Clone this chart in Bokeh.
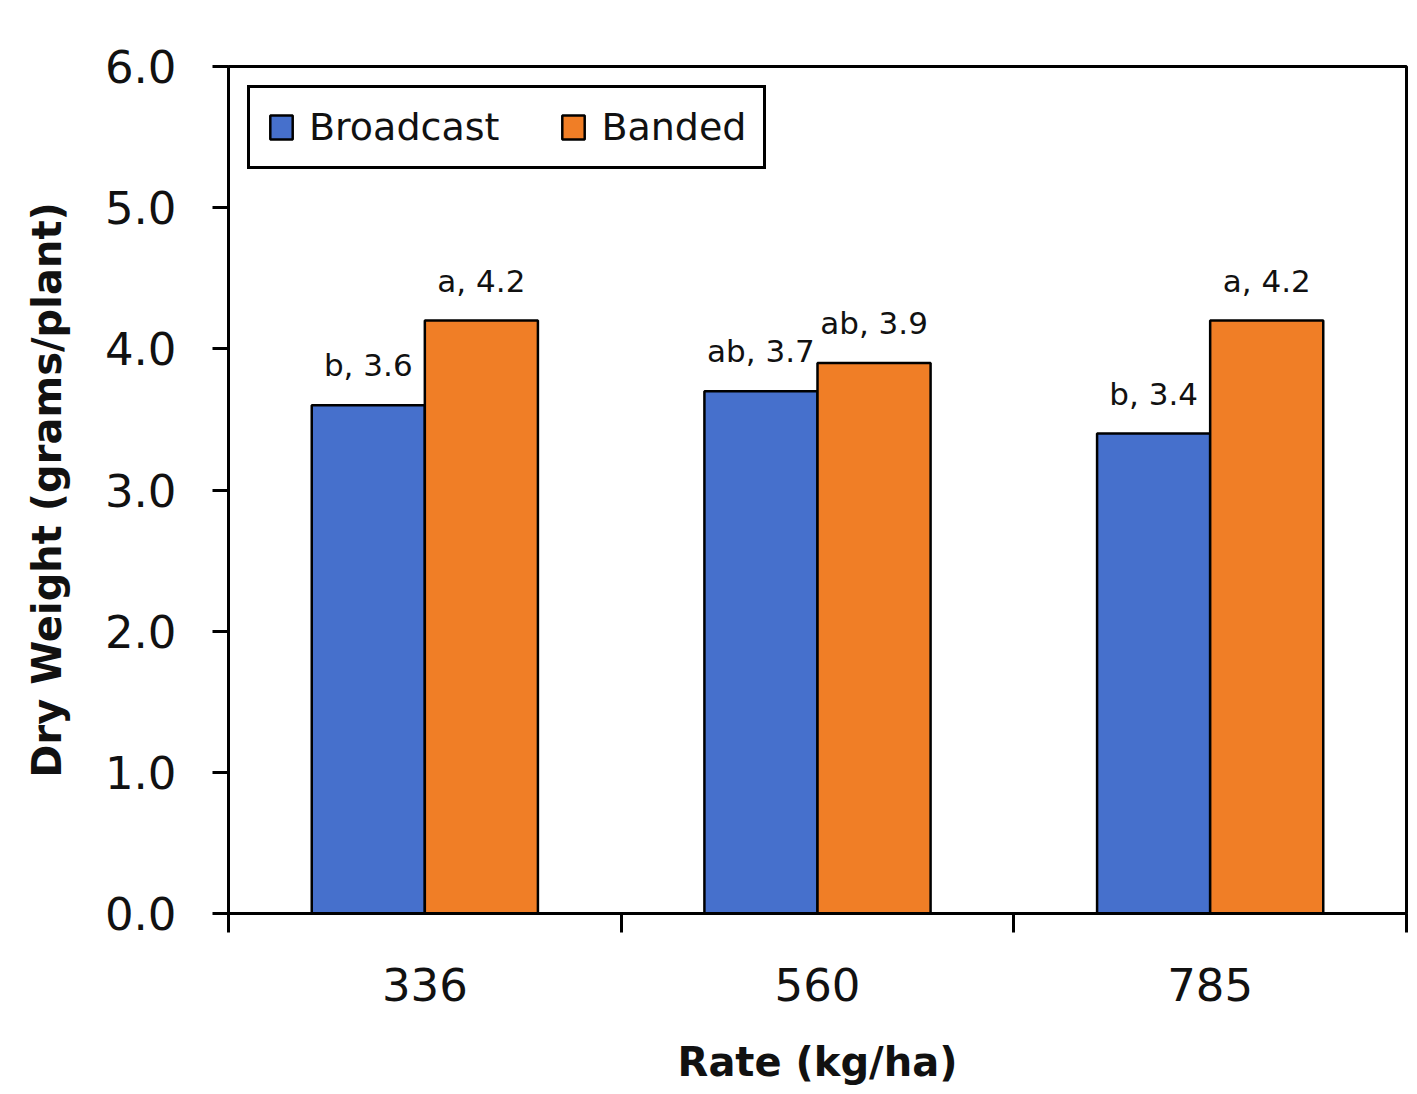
from bokeh.plotting import figure
from bokeh.models import (ColumnDataSource, FactorRange, Range1d, LinearAxis,
                          FixedTicker, NumeralTickFormatter)
from bokeh.core.properties import value
from bokeh.transform import dodge
from bokeh.embed import file_html
from bokeh.resources import INLINE

# Application rates and mean dry weight per plant for each placement method
rates = ["336", "560", "785"]
broadcast = [3.6, 3.7, 3.4]
banded = [4.2, 3.9, 4.2]
broadcast_groups = ["b", "ab", "b"]
banded_groups = ["a", "ab", "a"]
y_ticks = [0, 1, 2, 3, 4, 5, 6]

FONT = "DejaVu Sans"
BLUE = "#4670CC"
ORANGE = "#F07E26"
BAR_W = 0.288
OFFSET = 0.144

src = ColumnDataSource(dict(
    rate=rates,
    broadcast=broadcast,
    banded=banded,
    broadcast_label=[f"{g}, {v:.1f}" for g, v in zip(broadcast_groups, broadcast)],
    banded_label=[f"{g}, {v:.1f}" for g, v in zip(banded_groups, banded)],
))

p = figure(width=1417, height=1094,
           x_range=FactorRange(*rates, range_padding=0),
           y_range=Range1d(0, 6),
           output_backend="svg", toolbar_location=None,
           x_axis_location=None,
           min_border_left=228, min_border_right=11,
           min_border_top=66, min_border_bottom=181)
p.background_fill_color = "white"
p.border_fill_color = "white"
p.outline_line_color = "black"
p.outline_line_alpha = 1
p.outline_line_width = 3
p.xgrid.visible = False
p.ygrid.visible = False

p.vbar(x=dodge("rate", -OFFSET, range=p.x_range), top="broadcast", width=BAR_W,
       source=src, fill_color=BLUE, line_color="black", line_width=2.5,
       legend_label="Broadcast")
p.vbar(x=dodge("rate", OFFSET, range=p.x_range), top="banded", width=BAR_W,
       source=src, fill_color=ORANGE, line_color="black", line_width=2.5,
       legend_label="Banded")

# Significance letter and mean above each bar
for xoff, col in ((-OFFSET, "broadcast"), (OFFSET, "banded")):
    p.text(x=dodge("rate", xoff, range=p.x_range), y=col, text=col + "_label",
           source=src, text_align="center", text_baseline="alphabetic",
           y_offset=-40, text_font=value(FONT), text_font_size="31px",
           text_color="#111111")

# Y axis
yax = p.yaxis[0]
yax.ticker = FixedTicker(ticks=y_ticks)
yax.formatter = NumeralTickFormatter(format="0.0")
yax.major_tick_out = 16
yax.major_tick_in = 0
yax.minor_tick_line_color = None
yax.axis_line_width = 3
yax.major_tick_line_width = 3
yax.major_label_standoff = 36
yax.major_label_text_font = FONT
yax.major_label_text_font_size = "45px"
yax.major_label_text_color = "#111111"
yax.axis_label = "Dry Weight (grams/plant)"
yax.axis_label_text_font = FONT
yax.axis_label_text_font_style = "bold"
yax.axis_label_text_font_size = "40px"
yax.axis_label_standoff = 32
yax.axis_label_text_color = "#111111"

# X axis: rate labels at group centres (synthetic coordinates i + 0.5),
# tick marks at the group boundaries
centres = [i + 0.5 for i in range(len(rates))]
xax = LinearAxis(ticker=FixedTicker(ticks=centres,
                                    minor_ticks=list(range(len(rates) + 1))),
                 major_label_overrides={c: r for c, r in zip(centres, rates)})
xax.major_tick_line_color = None
xax.minor_tick_out = 19
xax.minor_tick_in = 0
xax.minor_tick_line_width = 3
xax.axis_line_width = 3
xax.major_label_standoff = 35
xax.major_label_text_font = FONT
xax.major_label_text_font_size = "45px"
xax.major_label_text_color = "#111111"
xax.axis_label = "Rate (kg/ha)"
xax.axis_label_text_font = FONT
xax.axis_label_text_font_style = "bold"
xax.axis_label_text_font_size = "40px"
xax.axis_label_standoff = 35
xax.axis_label_text_color = "#111111"
p.add_layout(xax, "below")

# Legend
lg = p.legend[0]
lg.location = "top_left"
lg.orientation = "horizontal"
lg.margin = 19
lg.padding = 17
lg.spacing = 60
lg.glyph_width = 28
lg.glyph_height = 30
lg.label_standoff = 14
lg.label_text_font = FONT
lg.label_text_font_size = "38px"
lg.label_text_color = "#111111"
lg.border_line_color = "black"
lg.border_line_alpha = 1
lg.border_line_width = 3
lg.background_fill_color = "white"
lg.background_fill_alpha = 1

open("out.html", "w").write(file_html(p, INLINE))
